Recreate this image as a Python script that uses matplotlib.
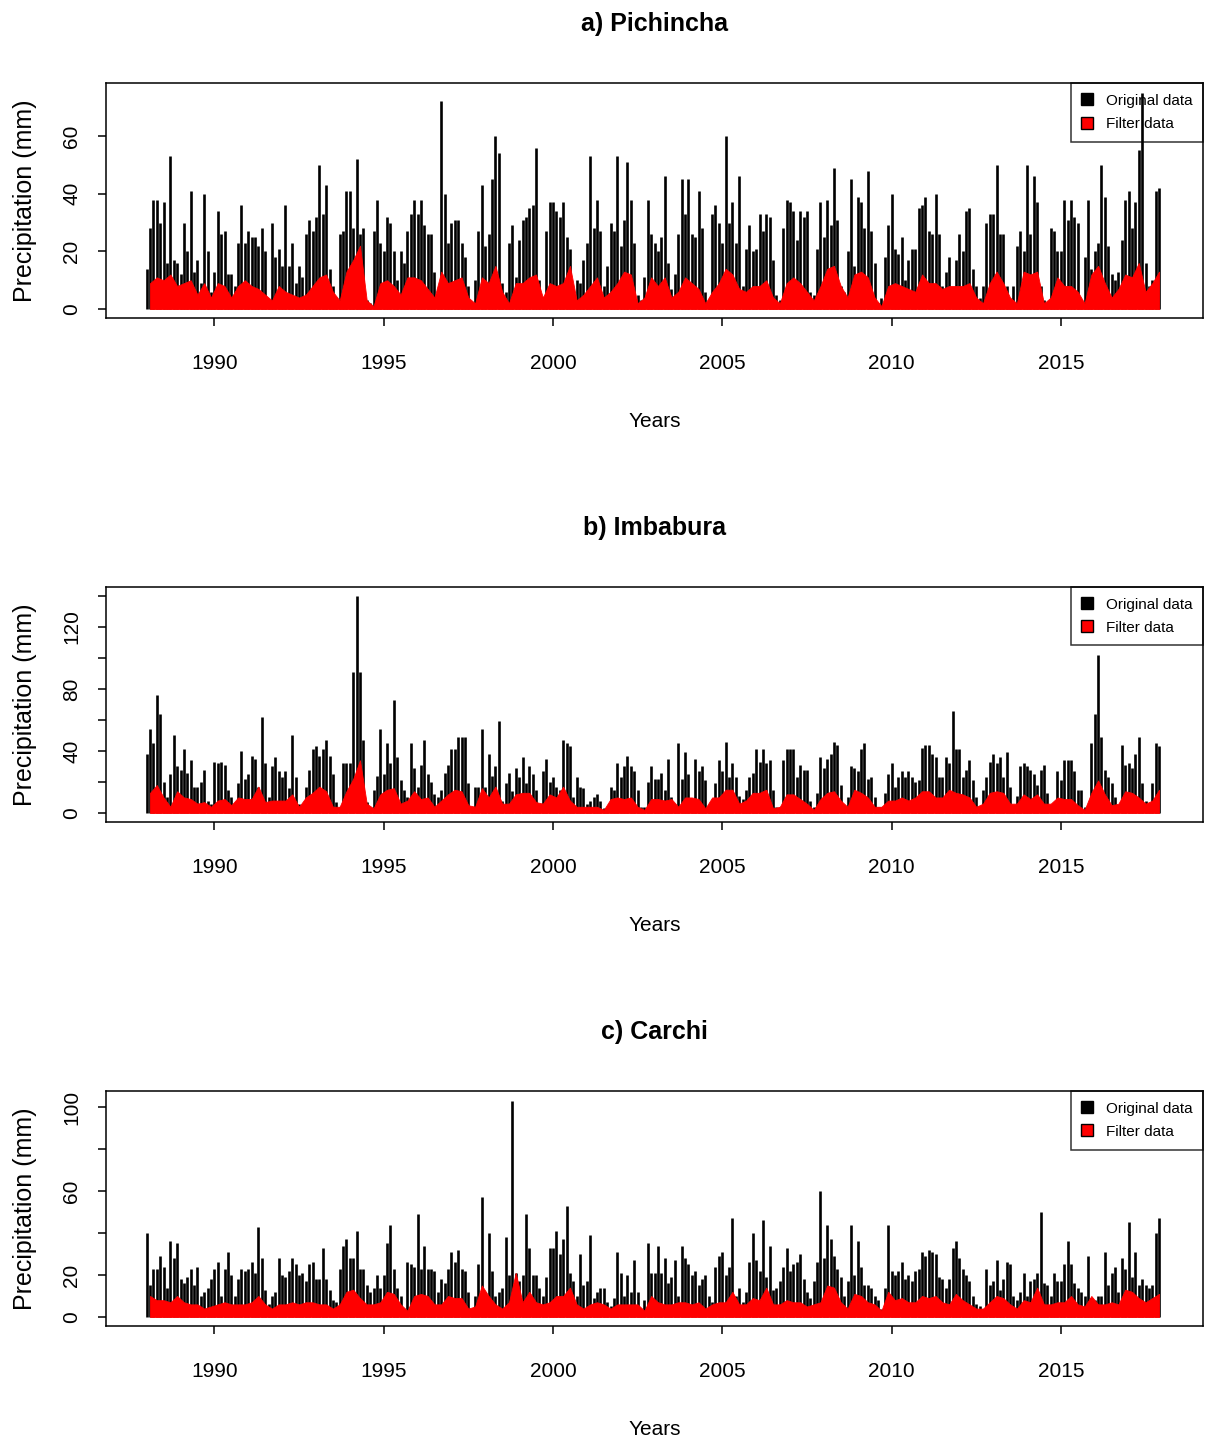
import numpy as np
from matplotlib import pyplot, ticker
from matplotlib.lines import Line2D

pyplot.rcParams["font.family"] = ["Liberation Sans", "DejaVu Sans"]

years = list(range(1988, 2018))

# precipitation (mm): ten readings per year for the
# original series, five per year for the filtered one
pichincha_original = [
    [14, 28, 38, 38, 30, 37, 16, 53, 17, 16],
    [12, 30, 20, 41, 13, 17, 9, 40, 20, 6],
    [13, 34, 26, 27, 12, 12, 8, 23, 36, 23],
    [27, 25, 25, 22, 28, 20, 3, 30, 18, 21],
    [15, 36, 15, 23, 9, 15, 11, 26, 31, 27],
    [32, 50, 33, 43, 14, 8, 2, 26, 27, 41],
    [41, 28, 52, 26, 28, 3, 2, 27, 38, 23],
    [20, 32, 30, 20, 10, 20, 16, 27, 33, 38],
    [33, 38, 29, 26, 26, 13, 7, 72, 40, 23],
    [30, 31, 31, 23, 18, 8, 1, 10, 27, 43],
    [22, 26, 45, 60, 54, 9, 6, 23, 29, 11],
    [24, 31, 32, 35, 36, 56, 10, 3, 27, 37],
    [37, 34, 32, 37, 25, 21, 4, 10, 9, 17],
    [23, 53, 28, 38, 27, 8, 15, 30, 27, 53],
    [22, 31, 51, 38, 23, 5, 3, 11, 38, 26],
    [23, 20, 25, 46, 16, 7, 12, 26, 45, 33],
    [45, 26, 25, 41, 28, 6, 2, 33, 36, 30],
    [23, 60, 30, 37, 23, 46, 8, 21, 29, 20],
    [21, 33, 27, 33, 32, 17, 5, 3, 28, 38],
    [37, 34, 24, 34, 32, 34, 6, 5, 21, 37],
    [25, 38, 29, 49, 31, 8, 6, 20, 45, 15],
    [39, 37, 28, 48, 27, 16, 2, 4, 18, 29],
    [40, 21, 19, 25, 10, 17, 21, 21, 35, 36],
    [39, 27, 26, 40, 26, 8, 13, 18, 6, 17],
    [26, 20, 34, 35, 14, 8, 4, 8, 30, 33],
    [33, 50, 26, 26, 8, 3, 8, 22, 27, 20],
    [50, 26, 46, 37, 8, 3, 2, 28, 27, 20],
    [20, 38, 31, 38, 32, 30, 3, 18, 38, 14],
    [20, 23, 50, 39, 22, 12, 10, 13, 24, 38],
    [41, 28, 37, 55, 75, 16, 8, 10, 41, 42],
]
pichincha_filter = [
    [9, 11, 10, 12, 8], [9, 10, 5, 9, 4], [9, 8, 4, 8, 10], [8, 7, 5, 3, 8],
    [6, 5, 4, 5, 8], [11, 12, 6, 3, 13], [17, 22, 3, 1, 9], [10, 8, 5, 11, 11],
    [10, 7, 4, 13, 9], [10, 11, 4, 2, 11], [9, 15, 6, 2, 9], [9, 11, 12, 4, 9],
    [8, 9, 15, 3, 5], [8, 11, 4, 6, 9], [13, 12, 2, 4, 11], [8, 11, 4, 6, 11],
    [9, 7, 2, 6, 9], [14, 12, 7, 6, 8], [8, 10, 4, 2, 9], [11, 9, 6, 3, 8],
    [14, 15, 8, 4, 12], [13, 11, 4, 1, 8], [9, 8, 7, 6, 12], [9, 9, 7, 8, 8],
    [8, 9, 4, 2, 9], [13, 9, 4, 2, 13], [12, 13, 2, 4, 11], [8, 8, 6, 2, 12],
    [15, 9, 4, 7, 12], [11, 16, 6, 9, 13],
]

imbabura_original = [
    [38, 54, 45, 76, 64, 20, 10, 25, 50, 30],
    [28, 41, 26, 34, 17, 17, 20, 28, 8, 6],
    [33, 32, 33, 31, 15, 10, 6, 19, 40, 22],
    [25, 37, 35, 17, 62, 32, 10, 30, 36, 27],
    [23, 27, 16, 50, 23, 6, 4, 17, 28, 41],
    [43, 37, 41, 47, 37, 25, 7, 4, 32, 32],
    [32, 91, 140, 91, 47, 7, 2, 15, 24, 54],
    [25, 45, 32, 73, 36, 21, 15, 10, 45, 29],
    [17, 31, 47, 25, 20, 12, 10, 15, 26, 31],
    [41, 41, 49, 49, 49, 19, 2, 17, 17, 54],
    [17, 38, 24, 30, 59, 8, 19, 26, 14, 29],
    [23, 36, 19, 30, 25, 15, 6, 27, 35, 20],
    [23, 17, 15, 47, 45, 43, 10, 23, 17, 16],
    [6, 8, 10, 12, 8, 3, 3, 17, 15, 32],
    [23, 30, 37, 30, 27, 15, 4, 4, 20, 30],
    [22, 22, 26, 15, 35, 10, 4, 45, 22, 39],
    [25, 8, 35, 27, 30, 21, 4, 3, 19, 34],
    [27, 46, 23, 32, 23, 11, 9, 15, 23, 26],
    [41, 33, 41, 32, 34, 15, 4, 4, 34, 41],
    [41, 41, 23, 31, 28, 28, 8, 4, 13, 36],
    [29, 35, 38, 46, 44, 18, 4, 10, 30, 29],
    [27, 41, 45, 22, 23, 10, 4, 4, 13, 25],
    [32, 17, 23, 27, 23, 27, 23, 20, 21, 42],
    [44, 44, 38, 36, 23, 23, 36, 32, 66, 41],
    [41, 23, 28, 34, 21, 10, 4, 15, 23, 33],
    [38, 32, 36, 23, 39, 17, 4, 11, 30, 32],
    [30, 28, 25, 18, 28, 31, 13, 4, 6, 27],
    [21, 34, 34, 34, 27, 15, 15, 4, 3, 45],
    [64, 102, 49, 28, 23, 19, 10, 4, 44, 31],
    [32, 29, 38, 49, 19, 8, 6, 19, 45, 43],
]
imbabura_filter = [
    [13, 18, 10, 4, 14], [10, 9, 6, 7, 4], [8, 9, 5, 10, 9], [9, 17, 7, 8, 8],
    [8, 12, 4, 10, 13], [17, 14, 4, 4, 14], [22, 34, 6, 3, 12], [15, 16, 6, 8, 14],
    [9, 10, 4, 8, 12], [15, 14, 5, 4, 16], [10, 17, 6, 6, 12], [13, 13, 7, 6, 12],
    [10, 17, 8, 4, 4], [4, 4, 2, 9, 10], [9, 10, 4, 2, 9], [9, 8, 9, 4, 10],
    [10, 9, 3, 10, 10], [15, 15, 6, 8, 13], [13, 15, 3, 4, 12], [12, 9, 6, 2, 9],
    [13, 14, 8, 4, 15], [13, 10, 4, 4, 8], [8, 10, 8, 10, 14], [14, 10, 10, 15, 13],
    [12, 10, 4, 6, 13], [14, 13, 6, 6, 12], [9, 12, 6, 6, 10], [9, 9, 5, 2, 13],
    [21, 12, 5, 6, 14], [13, 10, 6, 8, 15],
]

carchi_original = [
    [40, 15, 23, 23, 29, 24, 14, 36, 28, 35],
    [18, 16, 19, 23, 15, 24, 10, 12, 14, 18],
    [23, 26, 10, 23, 31, 20, 10, 18, 23, 22],
    [23, 26, 21, 43, 28, 13, 6, 10, 12, 28],
    [20, 19, 22, 28, 25, 20, 21, 17, 25, 26],
    [18, 18, 33, 18, 13, 8, 7, 23, 34, 37],
    [28, 28, 41, 23, 23, 15, 12, 14, 20, 14],
    [20, 35, 44, 23, 14, 10, 4, 26, 25, 24],
    [49, 23, 34, 23, 23, 22, 12, 18, 16, 23],
    [31, 26, 32, 23, 22, 12, 4, 10, 25, 57],
    [12, 40, 22, 10, 12, 14, 38, 20, 103, 21],
    [17, 20, 49, 33, 20, 20, 14, 10, 19, 33],
    [33, 41, 30, 37, 53, 21, 17, 10, 30, 15],
    [17, 39, 9, 12, 14, 14, 7, 5, 9, 31],
    [21, 10, 20, 12, 27, 12, 3, 8, 35, 21],
    [21, 34, 21, 28, 16, 19, 27, 10, 34, 28],
    [25, 20, 22, 15, 18, 20, 10, 7, 24, 29],
    [31, 20, 24, 47, 10, 14, 7, 12, 26, 40],
    [27, 22, 46, 19, 34, 13, 14, 17, 24, 33],
    [22, 25, 26, 30, 18, 12, 9, 17, 26, 60],
    [28, 44, 37, 29, 23, 19, 10, 17, 44, 20],
    [36, 24, 15, 15, 14, 10, 8, 4, 14, 44],
    [22, 20, 22, 26, 18, 20, 17, 22, 23, 31],
    [29, 32, 31, 30, 19, 18, 14, 18, 33, 36],
    [28, 23, 20, 17, 10, 6, 5, 4, 23, 15],
    [17, 27, 13, 18, 26, 25, 10, 8, 12, 21],
    [10, 17, 18, 21, 50, 16, 15, 10, 21, 17],
    [17, 25, 36, 25, 16, 14, 12, 10, 29, 9],
    [8, 10, 10, 31, 15, 21, 24, 12, 28, 23],
    [45, 19, 31, 15, 18, 15, 14, 15, 40, 47],
]
carchi_filter = [
    [10, 8, 8, 7, 10], [7, 6, 6, 4, 5], [6, 7, 6, 6, 6], [7, 10, 6, 4, 6],
    [6, 7, 6, 7, 7], [6, 6, 4, 6, 12], [13, 9, 6, 6, 7], [12, 11, 6, 3, 10],
    [11, 10, 6, 6, 10], [9, 9, 4, 5, 15], [10, 6, 4, 7, 21], [7, 12, 7, 6, 7],
    [10, 10, 14, 6, 4], [6, 7, 6, 4, 6], [6, 6, 6, 3, 10], [7, 6, 6, 7, 7],
    [6, 7, 4, 6, 7], [7, 12, 6, 6, 9], [8, 14, 6, 6, 8], [7, 7, 5, 6, 7],
    [15, 14, 7, 4, 11], [10, 7, 6, 3, 12], [8, 9, 7, 7, 10], [9, 10, 7, 6, 11],
    [8, 6, 4, 4, 7], [10, 9, 6, 4, 8], [7, 14, 6, 6, 7], [7, 10, 6, 5, 10],
    [6, 6, 7, 6, 13], [12, 9, 7, 9, 11],
]

titles = ["a) Pichincha", "b) Imbabura", "c) Carchi"]
year_ticks = [1990, 1995, 2000, 2005, 2010, 2015]
y_ticks = [[0, 20, 40, 60], list(range(0, 141, 20)), list(range(0, 101, 20))]
y_ticklabels = [
    ["0", "20", "40", "60"],
    ["0", "", "40", "", "80", "", "120", ""],
    ["0", "20", "", "60", "", "100"],
]
legend_labels = ["Original data", "Filter data"]


def draw_panel(ax, original, filtered, title, ticks, ticklabels, ylim):
    x_orig = np.array([y + k / 10 for y in years for k in range(10)])
    x_filt = np.array([y + 0.1 + k / 5 for y in years for k in range(5)])
    ax.vlines(x_orig, 0, np.ravel(original), color="black", lw=1.9, zorder=2)
    ax.fill_between(x_filt, 0, np.ravel(filtered), color="red", lw=0.6,
                    edgecolor="red", zorder=3)

    ax.set_xlim(1986.8, 2019.2)
    ax.set_ylim(*ylim)
    ax.set_xticks(year_ticks)
    ax.set_yticks(ticks)
    ax.yaxis.set_major_formatter(ticker.FixedFormatter(ticklabels))
    ax.tick_params(direction="out", length=6, width=1.1, labelsize=15)
    ax.tick_params(axis="x", pad=20)
    ax.tick_params(axis="y", pad=12)
    for lab in ax.get_yticklabels():
        lab.set_rotation(90)
        lab.set_va("center")
    for sp in ax.spines.values():
        sp.set_linewidth(1.1)

    ax.set_xlabel("Years", fontsize=15)
    ax.xaxis.set_label_coords(0.5, -0.40)
    ax.set_ylabel("Precipitation (mm)", fontsize=18)
    ax.yaxis.set_label_coords(-0.063, 0.5)
    ax.text(0.5, 1.25, title, transform=ax.transAxes, ha="center",
            va="center", fontsize=18, fontweight="bold")

    handles = [
        Line2D([], [], ls="none", marker="s", ms=8, mfc="black", mec="black"),
        Line2D([], [], ls="none", marker="s", ms=8, mfc="red", mec="black"),
    ]
    leg = ax.legend(handles, legend_labels, loc="upper right",
                    bbox_to_anchor=(1, 1), borderaxespad=0, fontsize=11,
                    fancybox=False, edgecolor="black", handlelength=0.8,
                    handletextpad=0.8, borderpad=0.7, labelspacing=0.6)
    leg.get_frame().set_facecolor("none")
    leg.get_frame().set_linewidth(1.1)


def main():
    fig = pyplot.figure(figsize=(12.09, 14.41), dpi=100)
    bottoms = [0.7793, 0.4296, 0.0798]
    series = [
        (pichincha_original, pichincha_filter, (-3.1, 78.4)),
        (imbabura_original, imbabura_filter, (-5.8, 145.8)),
        (carchi_original, carchi_filter, (-4.3, 107.6)),
    ]
    for i, (orig, filt, ylim) in enumerate(series):
        ax = fig.add_axes([0.0877, bottoms[i], 0.9074, 0.1631])
        draw_panel(ax, orig, filt, titles[i], y_ticks[i], y_ticklabels[i], ylim)

    fig.savefig("out.png", dpi=100)


if __name__ == "__main__":
    main()
